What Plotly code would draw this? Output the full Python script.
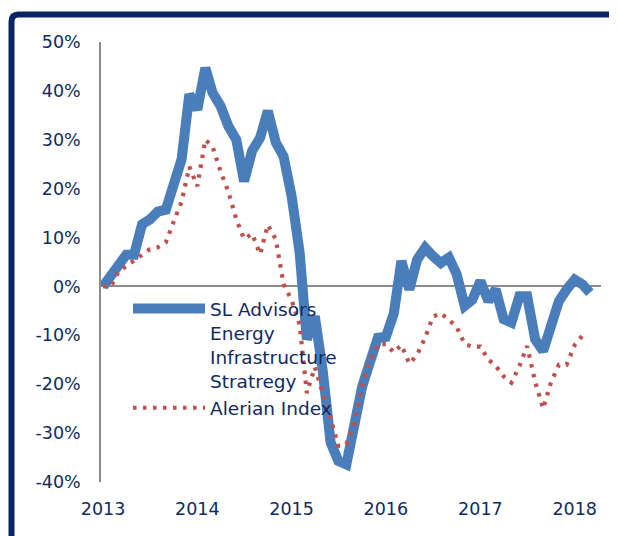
import plotly.graph_objects as go
import pandas as pd

# ---- data (monthly, percent) ----
months = pd.date_range("2013-01-01", "2018-03-01", freq="MS")
sl_advisors = [0, 2.1, 4.3, 6.5, 6.5, 12.7, 13.7, 15.3, 15.7, 21.2, 26, 39.3,
               36.2, 44.7, 39.6, 36.9, 32.8, 30, 21.5, 27.7, 30.4, 35.9, 29.4, 26.6,
               18.5, 7, -10.8, -6.1, -17, -31.9, -35.7, -36.4, -27, -20.5, -15.4, -10.5,
               -10.3, -5.5, 5.2, -0.6, 5.5, 7.9, 6.2, 4.8, 5.9, 2.5, -4, -2.7,
               1.1, -3, -0.6, -6.7, -7.4, -2, -2, -10.8, -13.2, -8.8, -3, -0.6,
               1.4, 0.4, -1.3]
alerian = [0, 0, 3.0, 4.2, 5.5, 6.7, 7.6, 8.0, 9.0, 13.2, 17.3, 24.5,
           20.5, 30, 28.6, 23.5, 19.4, 13.7, 9.7, 10.8, 6.6, 12.6, 9.6, 0.5,
           -2.8, -7.8, -21.8, -16.5, -21.5, -27, -32.6, -32.3, -28, -20.3, -15, -11.8,
           -11.8, -13.5, -12, -15.8, -14, -10.5, -6.2, -5.5, -6.8, -8.3, -11.8, -12.3,
           -12.3, -15, -16.2, -18.4, -19.7, -16.3, -12.2, -19.5, -25, -19.7, -16, -16,
           -12, -10, None]
series_names = ["SL Advisors<br>Energy<br>Infrastructure<br>Stratregy", "Alerian Index"]
year_labels = ["2013", "2014", "2015", "2016", "2017", "2018"]
y_tick_values = [-40, -30, -20, -10, 0, 10, 20, 30, 40, 50]
y_tick_labels = ["-40%", "-30%", "-20%", "-10%", "0%", "10%", "20%", "30%", "40%", "50%"]

NAVY = "#102A63"
FONT = "DejaVu Sans"

fig = go.Figure()
fig.add_trace(go.Scatter(
    x=months, y=[v / 100 for v in sl_advisors], mode="lines",
    name=series_names[0],
    line=dict(color="#4A7EBB", width=10),
))
fig.add_trace(go.Scatter(
    x=months, y=[None if v is None else v / 100 for v in alerian], mode="lines",
    name=series_names[1],
    line=dict(color="#C0504D", width=4.2, dash="3.5px,6.5px"),
))

# the page body adds an 8px offset, so the figure is 8px smaller
OFF = 8
W, H = 617 - OFF, 536 - OFF
L, R, T, B = 101 - OFF, 16, 42 - OFF, 54
pw, ph = W - L - R, H - T - B


def px(x):  # page pixel -> paper x
    return (x - OFF - L) / pw


def py(y):  # page pixel -> paper y
    return (H - B - (y - OFF)) / ph


# chart-area border (top + left, rounded corner)
x0, yt, rad = px(11.5), py(14.5), 7
border = (f"M {x0},{py(560)} L {x0},{py(14.5 + rad)} "
          f"Q {x0},{yt} {px(11.5 + rad)},{yt} L {px(640)},{yt}")

fig.update_layout(
    width=W, height=H,
    margin=dict(l=L, r=R, t=T, b=B, autoexpand=False),
    paper_bgcolor="white", plot_bgcolor="white",
    font=dict(family=FONT, size=18.5, color=NAVY),
    showlegend=True,
    legend=dict(
        x=px(128), y=py(290), xanchor="left", yanchor="top",
        bgcolor="rgba(0,0,0,0)", itemwidth=72, valign="top",
        font=dict(family=FONT, size=18.5, color=NAVY),
        tracegroupgap=0,
    ),
    xaxis=dict(
        type="date",
        range=["2012-12-24", "2018-04-13"],
        tickvals=[f"{y}-01-01" for y in year_labels],
        ticktext=year_labels,
        showgrid=False, zeroline=False, showline=False,
        ticks="", ticklabelstandoff=14, automargin=False,
        tickfont=dict(family=FONT, size=17.5, color=NAVY),
    ),
    yaxis=dict(
        range=[-0.4, 0.5],
        tickvals=[v / 100 for v in y_tick_values],
        ticktext=y_tick_labels,
        showgrid=False,
        zeroline=True, zerolinecolor="#8C8C8C", zerolinewidth=1.5,
        showline=True, linecolor="#8C8C8C", linewidth=1.5,
        ticks="", ticklabelstandoff=15, automargin=False,
        tickfont=dict(family=FONT, size=17.5, color=NAVY),
    ),
    shapes=[dict(type="path", path=border, xref="paper", yref="paper",
                 line=dict(color="#0B2462", width=6), layer="above")],
)

fig.write_html("out.html")
